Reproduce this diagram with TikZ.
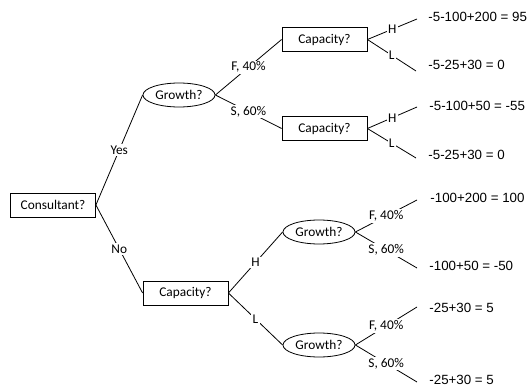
\documentclass[tikz,border=0pt]{standalone}
\usepackage{fontspec}
\setmainfont{Carlito}
\setsansfont{Liberation Sans}
\usepackage{tikz}
\usetikzlibrary{shapes.geometric}

\begin{document}
\begin{tikzpicture}[x=0.75pt,y=0.75pt,yscale=-1,xscale=1,
  line width=0.6pt, font=\fontsize{10}{12}\selectfont,
  decision/.style={draw, rectangle, minimum width=63.75pt, minimum height=18pt, inner sep=1pt},
  chance/.style={draw, ellipse, minimum width=54pt, minimum height=18pt, inner sep=0pt},
  branch/.style={fill=white, inner sep=1pt},
  payoff/.style={anchor=west, inner sep=0.75pt, font=\sffamily\fontsize{10}{12}\selectfont}]
\useasboundingbox (0,0) rectangle (527,388);

% Decision and chance nodes
\node [decision] (cons) at (53,205) {Consultant?};
\node [chance] (grow1) at (179,95) {Growth?};
\node [decision] (cap1) at (324.5,39.5) {Capacity?};
\node [decision] (cap2) at (324.5,128.5) {Capacity?};
\node [decision] (cap3) at (185.5,293) {Capacity?};
\node [chance] (grow2) at (319,232) {Growth?};
\node [chance] (grow3) at (319,345) {Growth?};

% Ends of the outcome branches
\coordinate (e1) at (417,19);
\coordinate (e2) at (416,71);
\coordinate (e3) at (417,107);
\coordinate (e4) at (416,158);
\coordinate (e5) at (417,200);
\coordinate (e6) at (417,268);
\coordinate (e7) at (417,307);
\coordinate (e8) at (417,382);

% Payoffs
\node [payoff] (p1) at (427,17) {-5-100+200 = 95};
\node [payoff] (p2) at (427,65) {-5-25+30 = 0};
\node [payoff] (p3) at (428,106) {-5-100+50 = -55};
\node [payoff] (p4) at (427,155) {-5-25+30 = 0};
\node [payoff] (p5) at (429,198) {-100+200 = 100};
\node [payoff] (p6) at (428,266) {-100+50 = -50};
\node [payoff] (p7) at (428,308) {-25+30 = 5};
\node [payoff] (p8) at (428,380) {-25+30 = 5};

% Branches
\draw (cons.east) -- node [branch] {Yes} (grow1.west);
\draw (cons.east) -- node [branch] {No} (cap3.west);

\draw (grow1.east) -- node [branch] {F, 40\%} (cap1.west);
\draw (grow1.east) -- node [branch] {S, 60\%} (cap2.west);

\draw (cap1.east) -- node [branch] {H} (e1);
\draw (cap1.east) -- node [branch] {L} (e2);
\draw (cap2.east) -- node [branch] {H} (e3);
\draw (cap2.east) -- node [branch] {L} (e4);

\draw (cap3.east) -- node [branch] {H} (grow2.west);
\draw (cap3.east) -- node [branch] {L} (grow3.west);

\draw (grow2.east) -- node [branch] {F, 40\%} (e5);
\draw (grow2.east) -- node [branch] {S, 60\%} (e6);
\draw (grow3.east) -- node [branch] {F, 40\%} (e7);
\draw (grow3.east) -- node [branch] {S, 60\%} (e8);

\end{tikzpicture}
\end{document}
